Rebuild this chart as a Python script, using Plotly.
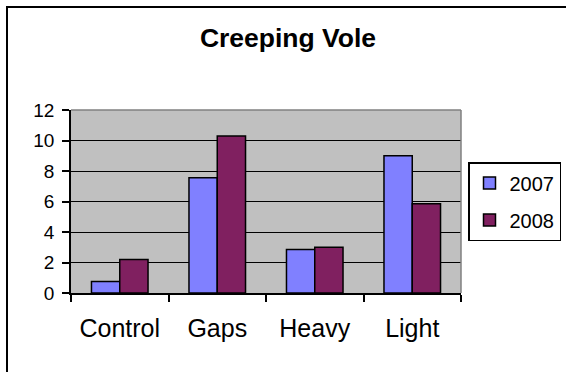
import plotly.graph_objects as go

categories = ["Control", "Gaps", "Heavy", "Light"]
values_2007 = [0.75, 7.55, 2.85, 9.0]
values_2008 = [2.2, 10.3, 3.0, 5.85]
y_ticks = [0, 2, 4, 6, 8, 10, 12]

W, H = 566, 372
L, R, T, B = 71, 105, 110, 79
plot_w = W - L - R
plot_h = H - T - B

def px_to_paper_x(px):
    return (px - L) / plot_w

def px_to_paper_y(py):
    return (H - B - py) / plot_h

bar_line = dict(color="black", width=1.5)

fig = go.Figure()
fig.add_trace(go.Bar(name="2007", x=categories, y=values_2007, legendgroup="a",
                     marker=dict(color="#8080FF", line=bar_line)))
fig.add_trace(go.Bar(name="2008", x=categories, y=values_2008, legendgroup="b",
                     marker=dict(color="#802060", line=bar_line)))

font_family = "Liberation Sans, Arial, sans-serif"

fig.update_layout(
    width=W, height=H,
    margin=dict(l=L, r=R, t=T, b=B, pad=0, autoexpand=False),
    paper_bgcolor="white",
    plot_bgcolor="#C0C0C0",
    barmode="group",
    bargap=0.42,
    bargroupgap=0,
    font=dict(family=font_family, color="black"),
    title=dict(text="<b>Creeping Vole</b>", x=288 / W, xref="container",
               xanchor="center", y=1 - 38 / H, yref="container", yanchor="middle",
               font=dict(size=26.5, family=font_family, color="black")),
    legend=dict(xref="container", yref="container",
                x=468 / W, y=1 - 162 / H,
                xanchor="left", yanchor="top",
                bordercolor="black", borderwidth=1.5,
                bgcolor="white",
                font=dict(size=20, family=font_family),
                traceorder="grouped",
                tracegroupgap=8),
    showlegend=True,
)

fig.update_xaxes(
    type="category",
    showline=True, linecolor="black", linewidth=1.5,
    ticks="outside", tickson="boundaries", ticklen=7, tickwidth=1.5,
    tickcolor="black",
    tickfont=dict(size=25, family=font_family),
    ticklabelstandoff=12,
    showgrid=False,
    mirror=False,
)
fig.update_yaxes(
    range=[0, 12],
    tickvals=y_ticks,
    showline=True, linecolor="black", linewidth=1.5,
    ticks="outside", ticklen=7, tickwidth=1.5, tickcolor="black",
    tickfont=dict(size=19, family=font_family),
    ticklabelstandoff=4,
    showgrid=True, gridcolor="black", gridwidth=1.2,
    zeroline=False,
)

# gray frame on top and right of the plot area
fig.add_shape(type="line", xref="paper", yref="paper", x0=0, x1=1, y0=1, y1=1,
              line=dict(color="#808080", width=1.5))
fig.add_shape(type="line", xref="paper", yref="paper", x0=1, x1=1, y0=0, y1=1,
              line=dict(color="#808080", width=1.5))

# outer chart border
fig.add_shape(type="rect", xref="paper", yref="paper",
              x0=px_to_paper_x(7), x1=px_to_paper_x(W + 20),
              y0=px_to_paper_y(H + 20), y1=px_to_paper_y(7),
              line=dict(color="black", width=2), layer="below")

fig.write_html("out.html")
